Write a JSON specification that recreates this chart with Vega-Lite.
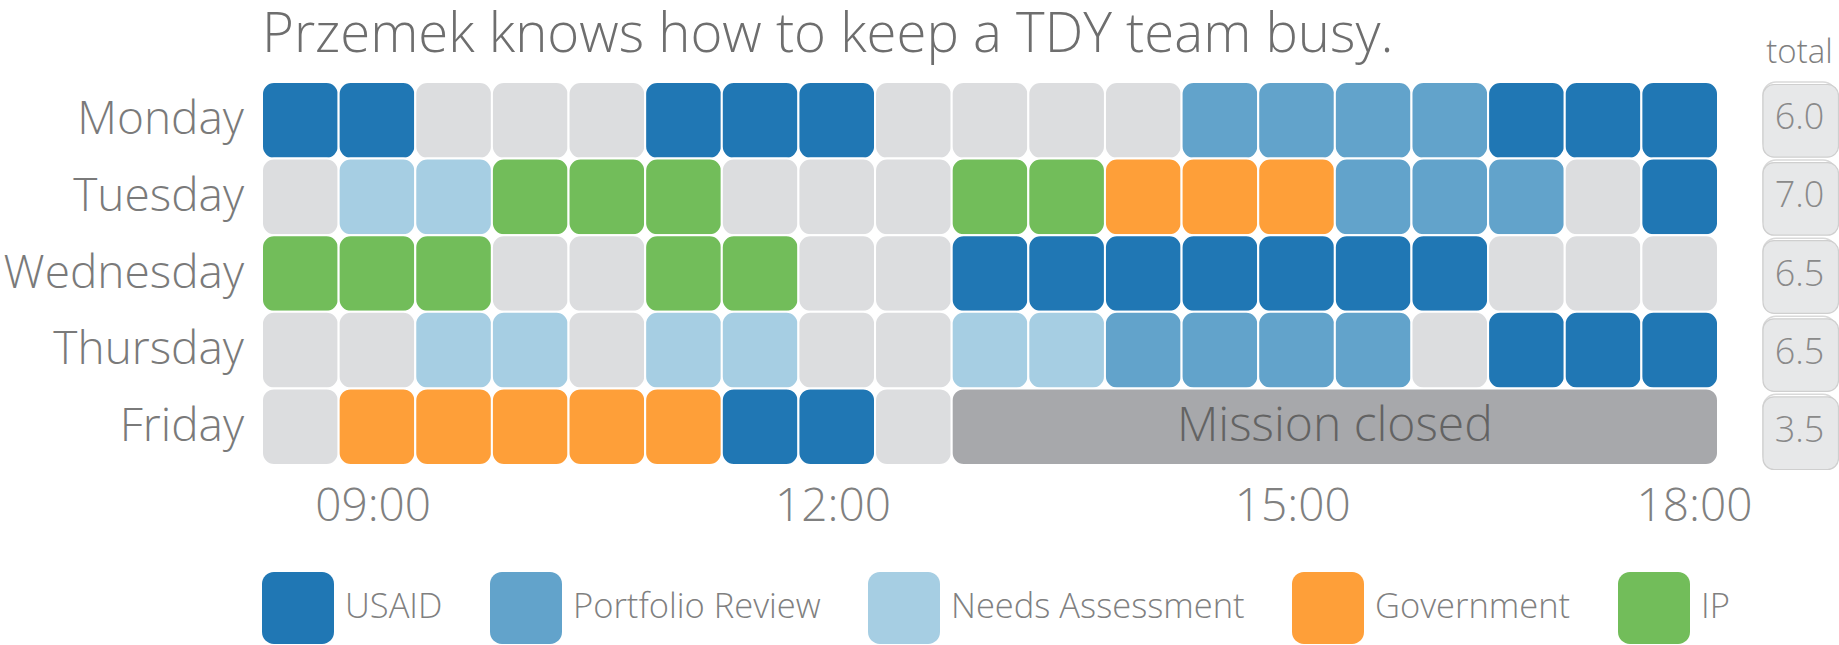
{
  "$schema": "https://vega.github.io/schema/vega-lite/v6.json",
  "padding": {"left": 3, "top": 7, "right": 0, "bottom": 0},
  "spacing": 45,
  "bounds": "flush",
  "datasets": {
    "cells": [
      {"day": "Monday", "start": 8.5, "end": 9, "activity": "USAID"},
      {"day": "Monday", "start": 9, "end": 9.5, "activity": "USAID"},
      {"day": "Monday", "start": 9.5, "end": 10, "activity": "none"},
      {"day": "Monday", "start": 10, "end": 10.5, "activity": "none"},
      {"day": "Monday", "start": 10.5, "end": 11, "activity": "none"},
      {"day": "Monday", "start": 11, "end": 11.5, "activity": "USAID"},
      {"day": "Monday", "start": 11.5, "end": 12, "activity": "USAID"},
      {"day": "Monday", "start": 12, "end": 12.5, "activity": "USAID"},
      {"day": "Monday", "start": 12.5, "end": 13, "activity": "none"},
      {"day": "Monday", "start": 13, "end": 13.5, "activity": "none"},
      {"day": "Monday", "start": 13.5, "end": 14, "activity": "none"},
      {"day": "Monday", "start": 14, "end": 14.5, "activity": "none"},
      {"day": "Monday", "start": 14.5, "end": 15, "activity": "Portfolio Review"},
      {"day": "Monday", "start": 15, "end": 15.5, "activity": "Portfolio Review"},
      {"day": "Monday", "start": 15.5, "end": 16, "activity": "Portfolio Review"},
      {"day": "Monday", "start": 16, "end": 16.5, "activity": "Portfolio Review"},
      {"day": "Monday", "start": 16.5, "end": 17, "activity": "USAID"},
      {"day": "Monday", "start": 17, "end": 17.5, "activity": "USAID"},
      {"day": "Monday", "start": 17.5, "end": 18, "activity": "USAID"},
      {"day": "Tuesday", "start": 8.5, "end": 9, "activity": "none"},
      {"day": "Tuesday", "start": 9, "end": 9.5, "activity": "Needs Assessment"},
      {"day": "Tuesday", "start": 9.5, "end": 10, "activity": "Needs Assessment"},
      {"day": "Tuesday", "start": 10, "end": 10.5, "activity": "IP"},
      {"day": "Tuesday", "start": 10.5, "end": 11, "activity": "IP"},
      {"day": "Tuesday", "start": 11, "end": 11.5, "activity": "IP"},
      {"day": "Tuesday", "start": 11.5, "end": 12, "activity": "none"},
      {"day": "Tuesday", "start": 12, "end": 12.5, "activity": "none"},
      {"day": "Tuesday", "start": 12.5, "end": 13, "activity": "none"},
      {"day": "Tuesday", "start": 13, "end": 13.5, "activity": "IP"},
      {"day": "Tuesday", "start": 13.5, "end": 14, "activity": "IP"},
      {"day": "Tuesday", "start": 14, "end": 14.5, "activity": "Government"},
      {"day": "Tuesday", "start": 14.5, "end": 15, "activity": "Government"},
      {"day": "Tuesday", "start": 15, "end": 15.5, "activity": "Government"},
      {"day": "Tuesday", "start": 15.5, "end": 16, "activity": "Portfolio Review"},
      {"day": "Tuesday", "start": 16, "end": 16.5, "activity": "Portfolio Review"},
      {"day": "Tuesday", "start": 16.5, "end": 17, "activity": "Portfolio Review"},
      {"day": "Tuesday", "start": 17, "end": 17.5, "activity": "none"},
      {"day": "Tuesday", "start": 17.5, "end": 18, "activity": "USAID"},
      {"day": "Wednesday", "start": 8.5, "end": 9, "activity": "IP"},
      {"day": "Wednesday", "start": 9, "end": 9.5, "activity": "IP"},
      {"day": "Wednesday", "start": 9.5, "end": 10, "activity": "IP"},
      {"day": "Wednesday", "start": 10, "end": 10.5, "activity": "none"},
      {"day": "Wednesday", "start": 10.5, "end": 11, "activity": "none"},
      {"day": "Wednesday", "start": 11, "end": 11.5, "activity": "IP"},
      {"day": "Wednesday", "start": 11.5, "end": 12, "activity": "IP"},
      {"day": "Wednesday", "start": 12, "end": 12.5, "activity": "none"},
      {"day": "Wednesday", "start": 12.5, "end": 13, "activity": "none"},
      {"day": "Wednesday", "start": 13, "end": 13.5, "activity": "USAID"},
      {"day": "Wednesday", "start": 13.5, "end": 14, "activity": "USAID"},
      {"day": "Wednesday", "start": 14, "end": 14.5, "activity": "USAID"},
      {"day": "Wednesday", "start": 14.5, "end": 15, "activity": "USAID"},
      {"day": "Wednesday", "start": 15, "end": 15.5, "activity": "USAID"},
      {"day": "Wednesday", "start": 15.5, "end": 16, "activity": "USAID"},
      {"day": "Wednesday", "start": 16, "end": 16.5, "activity": "USAID"},
      {"day": "Wednesday", "start": 16.5, "end": 17, "activity": "none"},
      {"day": "Wednesday", "start": 17, "end": 17.5, "activity": "none"},
      {"day": "Wednesday", "start": 17.5, "end": 18, "activity": "none"},
      {"day": "Thursday", "start": 8.5, "end": 9, "activity": "none"},
      {"day": "Thursday", "start": 9, "end": 9.5, "activity": "none"},
      {"day": "Thursday", "start": 9.5, "end": 10, "activity": "Needs Assessment"},
      {"day": "Thursday", "start": 10, "end": 10.5, "activity": "Needs Assessment"},
      {"day": "Thursday", "start": 10.5, "end": 11, "activity": "none"},
      {"day": "Thursday", "start": 11, "end": 11.5, "activity": "Needs Assessment"},
      {"day": "Thursday", "start": 11.5, "end": 12, "activity": "Needs Assessment"},
      {"day": "Thursday", "start": 12, "end": 12.5, "activity": "none"},
      {"day": "Thursday", "start": 12.5, "end": 13, "activity": "none"},
      {"day": "Thursday", "start": 13, "end": 13.5, "activity": "Needs Assessment"},
      {"day": "Thursday", "start": 13.5, "end": 14, "activity": "Needs Assessment"},
      {"day": "Thursday", "start": 14, "end": 14.5, "activity": "Portfolio Review"},
      {"day": "Thursday", "start": 14.5, "end": 15, "activity": "Portfolio Review"},
      {"day": "Thursday", "start": 15, "end": 15.5, "activity": "Portfolio Review"},
      {"day": "Thursday", "start": 15.5, "end": 16, "activity": "Portfolio Review"},
      {"day": "Thursday", "start": 16, "end": 16.5, "activity": "none"},
      {"day": "Thursday", "start": 16.5, "end": 17, "activity": "USAID"},
      {"day": "Thursday", "start": 17, "end": 17.5, "activity": "USAID"},
      {"day": "Thursday", "start": 17.5, "end": 18, "activity": "USAID"},
      {"day": "Friday", "start": 8.5, "end": 9, "activity": "none"},
      {"day": "Friday", "start": 9, "end": 9.5, "activity": "Government"},
      {"day": "Friday", "start": 9.5, "end": 10, "activity": "Government"},
      {"day": "Friday", "start": 10, "end": 10.5, "activity": "Government"},
      {"day": "Friday", "start": 10.5, "end": 11, "activity": "Government"},
      {"day": "Friday", "start": 11, "end": 11.5, "activity": "Government"},
      {"day": "Friday", "start": 11.5, "end": 12, "activity": "USAID"},
      {"day": "Friday", "start": 12, "end": 12.5, "activity": "USAID"},
      {"day": "Friday", "start": 12.5, "end": 13, "activity": "none"}
    ],
    "closed": [
      {"day": "Friday", "start": 13, "end": 18, "label": "Mission closed"}
    ],
    "totals": [
      {"day": "Monday", "total": 6.0},
      {"day": "Tuesday", "total": 7.0},
      {"day": "Wednesday", "total": 6.5},
      {"day": "Thursday", "total": 6.5},
      {"day": "Friday", "total": 3.5}
    ]
  },
  "hconcat": [
    {
      "width": 1456,
      "height": 383,
      "title": {
        "text": "Przemek knows how to keep a TDY team busy.",
        "anchor": "start",
        "frame": "group",
        "fontSize": 54.5,
        "font": "Open Sans",
        "fontWeight": 300,
        "color": "#6e6e6e",
        "offset": 18
      },
      "layer": [
        {
          "data": {"name": "cells"},
          "mark": {"type": "rect", "cornerRadius": 12, "stroke": "white", "strokeWidth": 2},
          "encoding": {
            "x": {
              "field": "start",
              "type": "quantitative",
              "scale": {"domain": [8.5, 18], "nice": false, "zero": false},
              "axis": {
                "title": null,
                "values": [9, 12, 15, 18],
                "labelExpr": "(datum.value < 10 ? '0' : '') + datum.value + ':00'",
                "domain": false,
                "ticks": false,
                "tickSize": 0,
                "grid": false,
                "labelFlush": false,
                "labelOverlap": false,
                "labelFont": "Open Sans",
                "labelFontWeight": 300,
                "labelFontSize": 46,
                "labelColor": "#808080",
                "labelPadding": 19,
                "labelOffset": {"condition": {"test": "datum.value == 18", "value": -24}, "value": 34}
              }
            },
            "x2": {"field": "end"},
            "y": {
              "field": "day",
              "type": "nominal",
              "sort": ["Monday", "Tuesday", "Wednesday", "Thursday", "Friday"],
              "axis": {
                "title": null,
                "domain": false,
                "ticks": false,
                "tickSize": 0,
                "labelFont": "Open Sans",
                "labelFontWeight": 300,
                "labelFontSize": 46,
                "labelColor": "#7a7a7a",
                "labelPadding": 18.5,
                "labelLimit": 500
              }
            },
            "color": {
              "field": "activity",
              "type": "nominal",
              "scale": {
                "domain": ["USAID", "Portfolio Review", "Needs Assessment", "Government", "IP", "none"],
                "range": ["#2077b4", "#62a3cb", "#a6cee3", "#fe9f39", "#72bd5a", "#dcdddf"]
              },
              "legend": {
                "orient": "bottom",
                "direction": "horizontal",
                "title": null,
                "values": ["USAID", "Portfolio Review", "Needs Assessment", "Government", "IP"],
                "symbolType": "M-0.67,-1L0.67,-1A0.33,0.33 0 0 1 1,-0.67L1,0.67A0.33,0.33 0 0 1 0.67,1L-0.67,1A0.33,0.33 0 0 1 -1,0.67L-1,-0.67A0.33,0.33 0 0 1 -0.67,-1Z",
                "symbolSize": 5184,
                "symbolStrokeWidth": 0,
                "symbolOpacity": 1,
                "labelFont": "Open Sans",
                "labelFontWeight": 300,
                "labelFontSize": 34.5,
                "labelColor": "#808080",
                "labelOffset": 11,
                "labelLimit": 400,
                "columnPadding": 47,
                "offset": 43
              }
            }
          }
        },
        {
          "data": {"name": "closed"},
          "mark": {"type": "rect", "cornerRadius": 12, "stroke": "white", "strokeWidth": 2, "color": "#a7a8ab"},
          "encoding": {
            "x": {"field": "start", "type": "quantitative"},
            "x2": {"field": "end"},
            "y": {"field": "day", "type": "nominal", "sort": ["Monday", "Tuesday", "Wednesday", "Thursday", "Friday"]}
          }
        },
        {
          "data": {"name": "closed"},
          "transform": [{"fold": ["start", "end"], "as": ["edge", "time"]}],
          "mark": {"type": "text", "font": "Open Sans", "fontWeight": 300, "fontSize": 48, "color": "#636363", "align": "center", "baseline": "middle"},
          "encoding": {
            "x": {"field": "time", "type": "quantitative", "aggregate": "mean"},
            "y": {"field": "day", "type": "nominal", "sort": ["Monday", "Tuesday", "Wednesday", "Thursday", "Friday"]},
            "text": {"field": "label", "type": "nominal"}
          }
        }
      ]
    },
    {
      "width": 73,
      "height": 385,
      "data": {"name": "totals"},
      "title": {
        "text": "total",
        "anchor": "middle",
        "fontSize": 33,
        "font": "Open Sans",
        "fontWeight": 300,
        "color": "#7f7f7f",
        "offset": 11
      },
      "layer": [
        {
          "mark": {"type": "rect", "cornerRadius": 13, "fill": "white", "stroke": "#d9d9d9", "strokeWidth": 1.5},
          "encoding": {
            "y": {
              "field": "day",
              "type": "nominal",
              "sort": ["Monday", "Tuesday", "Wednesday", "Thursday", "Friday"],
              "axis": null,
              "scale": {"paddingInner": 0.07, "paddingOuter": 0}
            }
          }
        },
        {
          "mark": {"type": "rect", "cornerRadius": 11, "fill": "#e7e8e9", "stroke": "#cfcfcf", "strokeWidth": 1.2, "xOffset": 2.5, "x2Offset": -2.5, "yOffset": 2.5, "y2Offset": -2.5},
          "encoding": {
            "y": {"field": "day", "type": "nominal", "sort": ["Monday", "Tuesday", "Wednesday", "Thursday", "Friday"]}
          }
        },
        {
          "mark": {"type": "text", "font": "Open Sans", "fontWeight": 300, "fontSize": 36, "color": "#8a8a8a", "align": "center", "baseline": "middle"},
          "encoding": {
            "y": {"field": "day", "type": "nominal", "sort": ["Monday", "Tuesday", "Wednesday", "Thursday", "Friday"]},
            "text": {"field": "total", "type": "quantitative", "format": ".1f"}
          }
        }
      ]
    }
  ],
  "resolve": {"legend": {"color": "independent"}},
  "config": {
    "view": {"stroke": null},
    "font": "Open Sans"
  }
}
